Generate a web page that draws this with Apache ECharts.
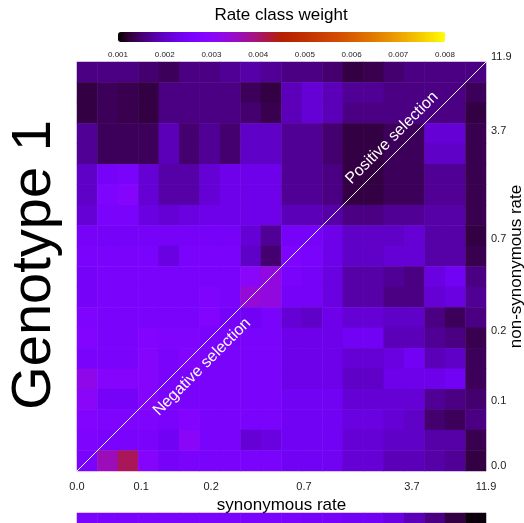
<!DOCTYPE html>
<html>
<head>
<meta charset="utf-8">
<script src="https://cdn.jsdelivr.net/npm/echarts@6/dist/echarts.min.js"></script>
<style>
html, body { margin: 0; padding: 0; background: #fff; }
#rateChart { width: 524px; height: 523px; }
</style>
</head>
<body>
<div id="rateChart"></div>
<script>
// rate class axis labels and where they sit along the axis (0 = lowest class edge, 1 = highest)
const rateLabels = ['0.0', '0.1', '0.2', '0.7', '3.7', '11.9']
const rateLabelPos = [0, 0.157, 0.328, 0.555, 0.819, 1]
const rateClasses = Array.from({ length: 20 }, (_, i) => i + 1)

// identity line dN = dS, in axis units
const diagonal = [[0, 0], [1, 1]]

// rate class weight, rows from highest non-synonymous class (top) to lowest
const weights = [
  [0.0016, 0.0016, 0.0016, 0.0015, 0.0014, 0.0016, 0.0016, 0.0017, 0.0018, 0.0017, 0.0016, 0.0016, 0.0015, 0.0013, 0.00135, 0.0015, 0.0016, 0.0016, 0.0016, 0.0016],
  [0.0013, 0.0014, 0.00135, 0.0013, 0.0016, 0.0016, 0.0016, 0.0016, 0.0014, 0.0013, 0.0019, 0.0021, 0.0019, 0.0017, 0.0017, 0.0016, 0.0016, 0.0016, 0.0016, 0.0014],
  [0.0013, 0.0014, 0.00135, 0.0013, 0.0016, 0.0016, 0.0016, 0.0016, 0.0015, 0.00135, 0.0019, 0.0021, 0.0019, 0.0016, 0.0016, 0.0016, 0.0016, 0.0016, 0.0016, 0.0013],
  [0.0017, 0.0014, 0.0014, 0.0014, 0.0019, 0.0015, 0.0017, 0.0015, 0.0020, 0.0020, 0.0017, 0.0017, 0.0015, 0.0013, 0.0013, 0.0014, 0.0014, 0.0021, 0.0021, 0.00135],
  [0.0017, 0.0014, 0.0014, 0.0014, 0.0019, 0.0015, 0.0017, 0.0015, 0.0020, 0.0020, 0.0017, 0.0017, 0.0015, 0.0013, 0.0013, 0.0014, 0.0014, 0.0020, 0.0020, 0.00135],
  [0.0020, 0.0025, 0.0026, 0.0021, 0.0018, 0.0018, 0.0021, 0.0023, 0.0023, 0.0023, 0.0017, 0.0017, 0.0016, 0.0013, 0.0013, 0.0014, 0.0014, 0.0017, 0.0017, 0.00135],
  [0.0020, 0.0027, 0.0029, 0.0021, 0.0018, 0.0018, 0.0021, 0.0023, 0.0023, 0.0023, 0.0017, 0.0017, 0.0016, 0.0013, 0.0013, 0.0014, 0.0014, 0.0017, 0.0017, 0.00135],
  [0.0021, 0.0026, 0.0026, 0.0022, 0.0021, 0.0022, 0.0023, 0.0023, 0.0023, 0.0023, 0.0019, 0.0019, 0.0018, 0.0016, 0.0016, 0.0017, 0.0017, 0.0018, 0.0018, 0.00135],
  [0.0025, 0.0025, 0.0025, 0.0025, 0.0025, 0.0025, 0.0025, 0.0025, 0.0021, 0.0017, 0.0025, 0.0025, 0.0023, 0.0020, 0.0020, 0.0020, 0.0021, 0.0018, 0.0018, 0.0013],
  [0.0026, 0.0026, 0.0026, 0.0026, 0.0022, 0.0026, 0.0026, 0.0026, 0.0020, 0.0015, 0.0027, 0.0026, 0.0023, 0.0020, 0.0020, 0.0021, 0.0021, 0.0018, 0.0018, 0.00135],
  [0.0025, 0.0026, 0.0026, 0.0026, 0.0026, 0.0026, 0.0026, 0.0026, 0.0030, 0.0033, 0.0026, 0.0025, 0.0022, 0.0018, 0.0018, 0.0017, 0.0016, 0.0022, 0.0024, 0.0016],
  [0.0025, 0.0026, 0.0026, 0.0026, 0.0026, 0.0026, 0.0027, 0.0026, 0.0034, 0.0033, 0.0025, 0.0025, 0.0022, 0.0018, 0.0018, 0.0016, 0.0016, 0.0021, 0.0022, 0.0017],
  [0.0027, 0.0026, 0.0026, 0.0026, 0.0026, 0.0026, 0.0028, 0.0025, 0.0024, 0.0026, 0.0021, 0.0020, 0.0023, 0.0021, 0.0021, 0.0020, 0.0020, 0.0016, 0.0014, 0.0016],
  [0.0028, 0.0026, 0.0026, 0.0028, 0.0027, 0.0027, 0.0026, 0.0026, 0.0026, 0.0026, 0.0023, 0.0023, 0.0023, 0.0024, 0.0024, 0.0019, 0.0019, 0.0017, 0.0016, 0.00135],
  [0.0026, 0.0026, 0.0026, 0.0029, 0.0026, 0.0028, 0.0026, 0.0026, 0.0026, 0.0026, 0.0023, 0.0023, 0.0023, 0.0021, 0.0021, 0.0022, 0.0024, 0.0019, 0.0020, 0.0014],
  [0.0032, 0.0029, 0.0029, 0.0029, 0.0026, 0.0026, 0.0026, 0.0026, 0.0026, 0.0026, 0.0023, 0.0023, 0.0023, 0.0020, 0.0020, 0.0023, 0.0023, 0.0023, 0.0024, 0.0014],
  [0.0030, 0.0025, 0.0025, 0.0029, 0.0026, 0.0026, 0.0026, 0.0026, 0.0026, 0.0026, 0.0024, 0.0024, 0.0024, 0.0021, 0.0021, 0.0021, 0.0021, 0.0017, 0.0016, 0.0015],
  [0.0028, 0.0027, 0.0027, 0.0027, 0.0026, 0.0028, 0.0026, 0.0026, 0.0026, 0.0026, 0.0024, 0.0024, 0.0024, 0.0022, 0.0022, 0.0021, 0.0020, 0.0015, 0.0014, 0.0016],
  [0.0027, 0.0026, 0.0026, 0.0026, 0.0024, 0.0030, 0.0026, 0.0026, 0.0021, 0.0022, 0.0024, 0.0024, 0.0024, 0.0021, 0.0021, 0.0020, 0.0020, 0.0018, 0.0018, 0.00135],
  [0.0026, 0.0036, 0.0041, 0.0029, 0.0025, 0.0026, 0.0026, 0.0026, 0.0026, 0.0026, 0.0024, 0.0024, 0.0024, 0.0021, 0.0021, 0.0019, 0.0019, 0.0018, 0.0017, 0.0013]
]

// top row of the next panel, cut off at the bottom of the picture
const nextPanelTopRow = [0.0026, 0.0026, 0.0026, 0.0026, 0.0026, 0.0026, 0.0026, 0.0026, 0.0026, 0.0026, 0.0026, 0.0025, 0.0025, 0.0024, 0.0024, 0.0022, 0.0019, 0.0016, 0.0013, 0.00105]

const FONT = '"Liberation Sans", Arial, Helvetica, sans-serif'

const heatData = []
weights.forEach((row, r) => row.forEach((v, c) => heatData.push([c, r, v])))
const nextData = nextPanelTopRow.map((v, c) => [c, 0, v])

// gnuplot palette: r = sqrt(t), g = t^3, b = sin(2 pi t)
const gnuplot = []
for (let i = 0; i <= 40; i++) {
  const t = i / 40
  const r = Math.round(255 * Math.sqrt(t))
  const g = Math.round(255 * t * t * t)
  const b = Math.round(255 * Math.max(0, Math.sin(2 * Math.PI * t)))
  gnuplot.push('rgb(' + r + ',' + g + ',' + b + ')')
}

function rateLabel(v) {
  let best = 0
  rateLabelPos.forEach((p, i) => {
    if (Math.abs(p - v) < Math.abs(rateLabelPos[best] - v)) best = i
  })
  return rateLabels[best]
}

const chart = echarts.init(document.getElementById('rateChart'))

const option = {
  animation: false,
  grid: [
    { left: 77, top: 62, width: 409, height: 409, outerBoundsMode: 'none', containLabel: false },
    { left: 118, top: 32, width: 327, height: 10, outerBoundsMode: 'none', containLabel: false },
    { left: 77, top: 513, width: 409, height: 20, outerBoundsMode: 'none', containLabel: false }
  ],
  xAxis: [
    { type: 'category', gridIndex: 0, data: rateClasses, show: false },
    {
      type: 'value',
      gridIndex: 0,
      min: 0,
      max: 1,
      position: 'bottom',
      name: 'synonymous rate',
      nameLocation: 'middle',
      nameGap: 26,
      nameMoveOverlap: false,
      nameTextStyle: { fontSize: 17, color: '#000', fontFamily: FONT },
      axisLine: { show: false },
      axisTick: { show: false },
      splitLine: { show: false },
      axisLabel: {
        customValues: rateLabelPos,
        formatter: rateLabel,
        fontSize: 11,
        color: '#222',
        margin: 10,
        fontFamily: FONT
      }
    },
    {
      type: 'value',
      gridIndex: 1,
      min: 0.001,
      max: 0.008,
      interval: 0.001,
      axisLine: { show: false },
      axisTick: { show: false },
      splitLine: { show: false },
      axisLabel: {
        formatter: v => v.toFixed(3),
        fontSize: 8,
        color: '#222',
        margin: 9,
        fontFamily: FONT
      }
    },
    { type: 'category', gridIndex: 2, data: rateClasses, show: false }
  ],
  yAxis: [
    { type: 'category', gridIndex: 0, data: rateClasses, inverse: true, show: false },
    {
      type: 'value',
      gridIndex: 0,
      min: 0,
      max: 1,
      position: 'right',
      name: 'non-synonymous rate',
      nameLocation: 'middle',
      nameRotate: 90,
      nameGap: 22,
      nameMoveOverlap: false,
      nameTextStyle: { fontSize: 17, color: '#000', fontFamily: FONT },
      axisLine: { show: false },
      axisTick: { show: false },
      splitLine: { show: false },
      axisLabel: {
        customValues: rateLabelPos,
        formatter: rateLabel,
        fontSize: 11,
        color: '#222',
        margin: 5,
        verticalAlign: 'bottom',
        fontFamily: FONT
      }
    },
    { type: 'value', gridIndex: 1, show: false },
    { type: 'category', gridIndex: 2, data: ['top'], show: false }
  ],
  visualMap: {
    type: 'continuous',
    min: 0.001,
    max: 0.008,
    orient: 'horizontal',
    left: 118,
    top: 32,
    itemWidth: 10,
    itemHeight: 327,
    padding: 0,
    calculable: false,
    seriesIndex: [0, 2],
    inRange: { color: gnuplot }
  },
  graphic: [
    {
      type: 'text',
      x: 281,
      y: 15,
      style: { text: 'Rate class weight', fontSize: 17, fontFamily: FONT, fill: '#000', align: 'center', verticalAlign: 'middle' }
    },
    {
      type: 'text',
      x: 35,
      y: 265,
      rotation: Math.PI / 2,
      style: { text: 'Genotype 1', fontSize: 56, fontFamily: FONT, fill: '#000', align: 'center', verticalAlign: 'middle' }
    },
    {
      type: 'text',
      x: 392,
      y: 138,
      z: 100,
      rotation: Math.PI / 4,
      style: { text: 'Positive selection', fontSize: 16, fontFamily: FONT, fill: '#fff', align: 'center', verticalAlign: 'middle' }
    },
    {
      type: 'text',
      x: 202,
      y: 367,
      z: 100,
      rotation: Math.PI / 4,
      style: { text: 'Negative selection', fontSize: 16, fontFamily: FONT, fill: '#fff', align: 'center', verticalAlign: 'middle' }
    }
  ],
  series: [
    {
      type: 'heatmap',
      xAxisIndex: 0,
      yAxisIndex: 0,
      data: heatData,
      emphasis: { disabled: true }
    },
    {
      type: 'line',
      xAxisIndex: 1,
      yAxisIndex: 1,
      data: diagonal,
      symbol: 'none',
      silent: true,
      z: 5,
      lineStyle: { color: '#fff', width: 1 }
    },
    {
      type: 'heatmap',
      xAxisIndex: 3,
      yAxisIndex: 3,
      data: nextData,
      emphasis: { disabled: true }
    }
  ]
}

chart.setOption(option)
</script>
</body>
</html>
